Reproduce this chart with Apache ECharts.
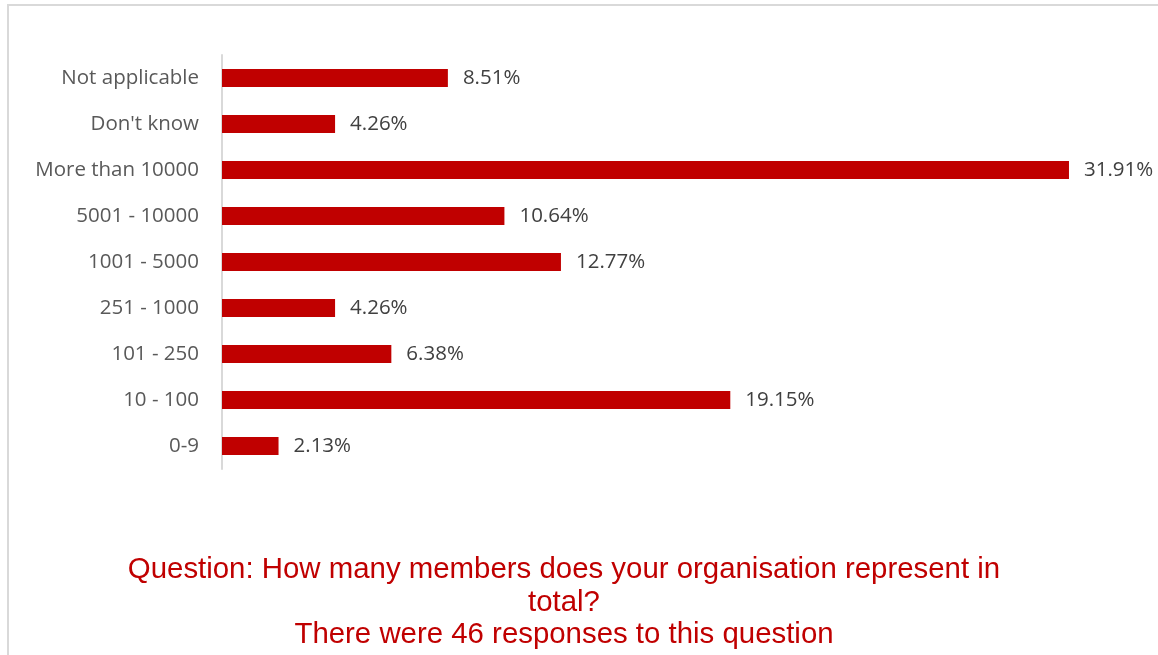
<!DOCTYPE html>
<html>
<head>
<meta charset="utf-8">
<style>
  html, body { margin: 0; padding: 0; background: #fff; }
  #chart { width: 1158px; height: 655px; }
</style>
<script src="https://cdn.jsdelivr.net/npm/echarts@6/dist/echarts.min.js"></script>
</head>
<body>
<div id="chart"></div>
<script>
// Survey answer groups, listed bottom to top as drawn on the category axis
const categories = ['0-9', '10 - 100', '101 - 250', '251 - 1000', '1001 - 5000', '5001 - 10000', 'More than 10000', "Don't know", 'Not applicable'];
// Share of responses per group (%)
const shares = [2.13, 19.15, 6.38, 4.26, 12.77, 10.64, 31.91, 4.26, 8.51];
const questionLines = [
  'Question: How many members does your organisation represent in',
  'total?',
  'There were 46 responses to this question'
];

const chart = echarts.init(document.getElementById('chart'), null, { renderer: 'canvas' });

chart.setOption({
  animation: false,
  backgroundColor: '#ffffff',
  graphic: [
    {
      type: 'rect',
      shape: { x: 8, y: 5, width: 1160, height: 700 },
      style: { fill: 'none', stroke: '#d9d9d9', lineWidth: 2 },
      silent: true
    },
    {
      type: 'text',
      x: 564,
      y: 554,
      style: {
        text: questionLines.join('\n'),
        fill: '#c00000',
        font: '29.4px "Liberation Sans", Arial, sans-serif',
        lineHeight: 32.5,
        align: 'center',
        verticalAlign: 'top'
      }
    }
  ],
  grid: { left: 222, right: 7, top: 55, height: 414, containLabel: false },
  xAxis: {
    type: 'value',
    min: 0,
    max: 35,
    show: false
  },
  yAxis: {
    type: 'category',
    data: categories,
    axisLine: { show: true, lineStyle: { color: '#d9d9d9', width: 2 } },
    axisTick: { show: false },
    axisLabel: {
      color: '#595959',
      fontSize: 20.5,
      fontFamily: '"Open Sans", sans-serif',
      margin: 23,
      padding: [4, 0, 0, 0]
    }
  },
  series: [{
    type: 'bar',
    data: shares,
    barWidth: 18,
    itemStyle: { color: '#c00000' },
    label: {
      show: true,
      position: 'right',
      distance: 15,
      color: '#404040',
      fontSize: 20.5,
      fontFamily: '"Open Sans", sans-serif',
      padding: [4, 0, 0, 0],
      formatter: p => p.value.toFixed(2) + '%'
    }
  }]
});
</script>
</body>
</html>
